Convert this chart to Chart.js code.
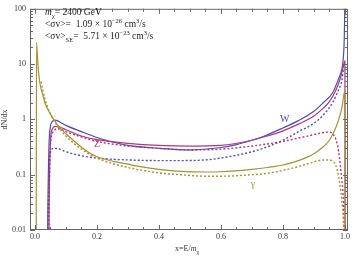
<!DOCTYPE html>
<html>
<head>
<meta charset="utf-8">
<script src="https://cdn.jsdelivr.net/npm/chart.js@4/dist/chart.umd.min.js"></script>
<style>
  html, body { margin: 0; padding: 0; background: #fff; }
  #wrap { position: relative; width: 356px; height: 257px; }
  #info { position: absolute; left: 45px; top: 6px; font: 9.5px "Liberation Serif", serif; color: #222; line-height: 12px; white-space: nowrap; }
  #info sub, #info sup { font-size: 6.5px; line-height: 0; }
  #xtitle { position: absolute; left: 175px; top: 244px; font: 8px "Liberation Serif", serif; color: #333; white-space: nowrap; }
  #xtitle sub { font-size: 6px; line-height: 0; }
</style>
</head>
<body>
<div id="wrap">
  <canvas id="chart" width="356" height="257"></canvas>
  <div id="info">
    <div><i>m</i><sub>χ</sub>= 2400 GeV</div>
    <div>&lt;σv&gt;=&nbsp; 1.09 × 10<sup>−26</sup> cm<sup>3</sup>/s</div>
    <div>&lt;σv&gt;<sub>SE</sub>=&nbsp; 5.71 × 10<sup>−23</sup> cm<sup>3</sup>/s</div>
  </div>
  <div id="xtitle">x=E/<i>m</i><sub>χ</sub></div>
</div>
<script>
// tick labels
var xTicks = [0, 0.2, 0.4, 0.6, 0.8, 1.0];
var yTicks = [0.01, 0.1, 1, 10, 100];

// W, solid and dotted
var wX = [0.040, 0.041, 0.045, 0.05, 0.055, 0.065, 0.08, 0.1, 0.15, 0.2, 0.25, 0.3, 0.4, 0.5, 0.6, 0.65, 0.7, 0.74, 0.8, 0.85, 0.9, 0.93, 0.96, 0.98, 0.99, 0.994, 0.998, 1.0];
var wSolid = [0.001, 0.01, 0.3, 0.75, 0.9, 0.97, 0.9, 0.78, 0.6, 0.47, 0.39, 0.34, 0.3, 0.28, 0.31, 0.35, 0.42, 0.5, 0.7, 0.95, 1.4, 2.0, 3.0, 5.5, 8, 11.5, 30, 150];
var wDotX = [0.040, 0.042, 0.046, 0.05, 0.06, 0.08, 0.1, 0.15, 0.2, 0.3, 0.4, 0.47, 0.55, 0.6, 0.7, 0.75, 0.8, 0.85, 0.9, 0.93, 0.96, 0.98, 0.99, 0.995];
var wDotted = [0.001, 0.01, 0.15, 0.25, 0.3, 0.29, 0.26, 0.22, 0.2, 0.185, 0.18, 0.18, 0.185, 0.2, 0.26, 0.32, 0.42, 0.6, 0.85, 1.2, 2.0, 3.5, 5, 8];

// Z, solid and dotted
var zX = [0.044, 0.045, 0.05, 0.055, 0.065, 0.08, 0.1, 0.15, 0.2, 0.3, 0.4, 0.5, 0.6, 0.7, 0.75, 0.8, 0.85, 0.9, 0.93, 0.95, 0.97, 0.985, 0.995, 1.0, 1.001];
var zSolid = [0.001, 0.01, 0.4, 0.65, 0.75, 0.73, 0.65, 0.5, 0.43, 0.37, 0.34, 0.33, 0.34, 0.42, 0.5, 0.62, 0.82, 1.15, 1.6, 2.1, 3.3, 5.5, 9, 11.5, 0.001];
var zDotX = [0.044, 0.045, 0.05, 0.06, 0.07, 0.08, 0.1, 0.15, 0.2, 0.3, 0.4, 0.5, 0.6, 0.7, 0.8, 0.85, 0.9, 0.93, 0.95, 0.96, 0.97, 0.98, 0.99, 0.994, 0.997, 0.998];
var zDotted = [0.001, 0.01, 0.35, 0.6, 0.68, 0.67, 0.6, 0.48, 0.4, 0.33, 0.3, 0.28, 0.29, 0.33, 0.4, 0.46, 0.53, 0.58, 0.59, 0.55, 0.45, 0.26, 0.08, 0.044, 0.01, 0.001];

// gamma, solid and dotted
var gX = [0.004, 0.005, 0.01, 0.016, 0.025, 0.032, 0.048, 0.074, 0.1, 0.13, 0.18, 0.226, 0.3, 0.34, 0.4, 0.47, 0.55, 0.6, 0.7, 0.75, 0.8, 0.85, 0.9, 0.93, 0.95, 0.97, 0.98, 0.99, 1.0, 1.001];
var gSolid = [0.001, 25, 9, 4.5, 2.8, 2.0, 1.3, 0.78, 0.55, 0.39, 0.24, 0.19, 0.155, 0.14, 0.125, 0.115, 0.112, 0.113, 0.125, 0.135, 0.15, 0.18, 0.24, 0.32, 0.42, 0.7, 1.0, 1.6, 3.3, 0.001];
var gDotX = [0.02, 0.03, 0.05, 0.07, 0.1, 0.15, 0.2, 0.3, 0.4, 0.47, 0.55, 0.6, 0.7, 0.75, 0.8, 0.85, 0.9, 0.93, 0.95, 0.96, 0.97, 0.98, 0.99, 0.995, 0.997];
var gDotted = [4.8, 2.6, 1.25, 0.8, 0.5, 0.29, 0.2, 0.135, 0.108, 0.1, 0.094, 0.094, 0.1, 0.106, 0.12, 0.14, 0.17, 0.185, 0.185, 0.175, 0.15, 0.09, 0.035, 0.015, 0.008];

// curve labels
var labelText = ["W", "Z", "γ"];
var labelX = [0.806, 0.2, 0.703];
var labelY = [1.0, 0.36, 0.068];

var blue = "rgb(75,75,185)";
var magenta = "rgb(175,55,120)";
var olive = "rgb(165,145,50)";
var labelColor = [blue, magenta, olive];

function pts(xs, ys) {
  return xs.map(function (x, i) { return { x: x, y: ys[i] }; });
}

function series(xs, ys, color, dotted) {
  return {
    data: pts(xs, ys),
    borderColor: color,
    borderWidth: dotted ? 1.4 : 1.2,
    borderDash: dotted ? [2, 2] : [],
    pointRadius: 0,
    fill: false,
    cubicInterpolationMode: "monotone",
  };
}

// frame with inward ticks, and the curve labels
var framePlugin = {
  id: "frame",
  afterDraw: function (chart) {
    var ctx = chart.ctx;
    var a = chart.chartArea;
    var sx = chart.scales.x;
    var sy = chart.scales.y;
    ctx.save();
    ctx.strokeStyle = "#666";
    ctx.lineWidth = 1;
    ctx.strokeRect(a.left + 0.5, a.top + 0.5, a.right - a.left - 1, a.bottom - a.top - 1);
    ctx.beginPath();
    for (var i = 0; i <= 20; i++) {
      var v = i * 0.05;
      var len = i % 4 == 0 ? 5 : 3;
      var px = Math.round(sx.getPixelForValue(v)) + 0.5;
      ctx.moveTo(px, a.bottom);
      ctx.lineTo(px, a.bottom - len);
      ctx.moveTo(px, a.top);
      ctx.lineTo(px, a.top + len);
    }
    for (var d = -2; d <= 2; d++) {
      for (var m = 1; m <= 9; m++) {
        if (d == 2 && m > 1) break;
        var py = Math.round(sy.getPixelForValue(m * Math.pow(10, d))) + 0.5;
        var l = m == 1 ? 5 : 3;
        ctx.moveTo(a.left, py);
        ctx.lineTo(a.left + l, py);
        ctx.moveTo(a.right, py);
        ctx.lineTo(a.right - l, py);
      }
    }
    ctx.stroke();

    ctx.font = "10px 'Liberation Serif'";
    ctx.textAlign = "center";
    ctx.textBaseline = "middle";
    for (var k = 0; k < labelText.length; k++) {
      ctx.fillStyle = labelColor[k];
      ctx.fillText(labelText[k], sx.getPixelForValue(labelX[k]), sy.getPixelForValue(labelY[k]));
    }
    ctx.restore();
  },
};

new Chart(document.getElementById("chart"), {
  type: "line",
  data: {
    datasets: [
      series(gX, gSolid, olive, false),
      series(gDotX, gDotted, olive, true),
      series(zDotX, zDotted, magenta, true),
      series(wDotX, wDotted, blue, true),
      series(zX, zSolid, magenta, false),
      series(wX, wSolid, blue, false),
    ],
  },
  options: {
    responsive: false,
    animation: false,
    devicePixelRatio: 1,
    layout: { padding: { top: 4, right: 8, left: 0, bottom: 0 } },
    plugins: { legend: { display: false }, tooltip: { enabled: false } },
    scales: {
      x: {
        type: "linear",
        min: -0.016,
        max: 1.01,
        afterBuildTicks: function (scale) {
          scale.ticks = xTicks.map(function (v) { return { value: v }; });
        },
        afterFit: function (scale) { scale.height = 27; },
        ticks: {
          padding: 2,
          color: "#333",
          font: { family: "Liberation Serif", size: 8 },
          callback: function (v) { return v.toFixed(1); },
        },
        grid: { display: false, drawTicks: false },
        border: { display: false },
      },
      y: {
        type: "logarithmic",
        min: 0.01,
        max: 100,
        afterBuildTicks: function (scale) {
          scale.ticks = yTicks.map(function (v) { return { value: v }; });
        },
        afterFit: function (scale) { scale.width = 30; },
        ticks: {
          padding: 4,
          color: "#333",
          font: { family: "Liberation Serif", size: 8 },
          callback: function (v) { return String(v); },
        },
        title: {
          display: true,
          text: "dN/dx",
          color: "#333",
          padding: 0,
          font: { family: "Liberation Serif", size: 8 },
        },
        grid: { display: false, drawTicks: false },
        border: { display: false },
      },
    },
  },
  plugins: [framePlugin],
});
</script>
</body>
</html>
